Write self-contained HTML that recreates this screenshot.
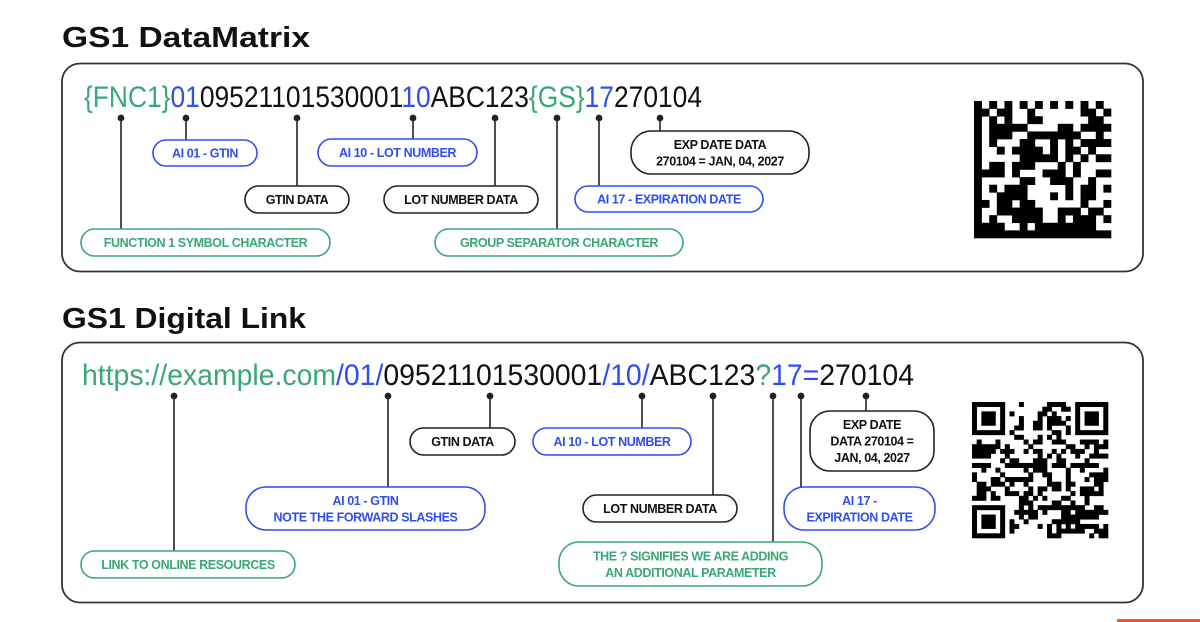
<!DOCTYPE html>
<html><head><meta charset="utf-8">
<style>
html,body{margin:0;padding:0;background:#fff;}
svg{display:block;}
.p{font-family:"Liberation Sans",sans-serif;font-weight:bold;font-size:12.5px;letter-spacing:-0.4px;}
</style></head><body>
<svg id="s" width="1200" height="622" viewBox="0 0 1200 622" xmlns="http://www.w3.org/2000/svg">
<rect x="0" y="0" width="1200" height="622" fill="#fff"/>
<rect x="1117" y="619" width="83" height="3" fill="#f05a28"/>
<text x="62" y="47" font-family="Liberation Sans,sans-serif" font-weight="bold" font-size="29" fill="#111" textLength="248" lengthAdjust="spacingAndGlyphs">GS1 DataMatrix</text>
<text x="62" y="328" font-family="Liberation Sans,sans-serif" font-weight="bold" font-size="29" fill="#111" textLength="244" lengthAdjust="spacingAndGlyphs">GS1 Digital Link</text>
<rect x="62" y="63.5" width="1081" height="208" rx="18" fill="none" stroke="#333" stroke-width="1.8"/>
<rect x="62" y="342.5" width="1081" height="260" rx="18" fill="none" stroke="#333" stroke-width="1.8"/>

<text x="84" y="107" font-family="Liberation Sans,sans-serif" font-size="30" fill="#111" textLength="618" lengthAdjust="spacingAndGlyphs"><tspan fill="#3aa876">{FNC1}</tspan><tspan fill="#2f4ef0">01</tspan>0952110153000<tspan>1</tspan><tspan fill="#2f4ef0">10</tspan>ABC123<tspan fill="#3aa876">{GS}</tspan><tspan fill="#2f4ef0">17</tspan>270104</text>

<text x="82" y="385" font-family="Liberation Sans,sans-serif" font-size="30" fill="#111" textLength="832" lengthAdjust="spacingAndGlyphs"><tspan fill="#3aa876">https://example.com</tspan><tspan fill="#2f4ef0">/01/</tspan>09521101530001<tspan fill="#2f4ef0">/10/</tspan>ABC123<tspan fill="#3aa876">?</tspan><tspan fill="#2f4ef0">17=</tspan>270104</text>

<g id="conn" stroke="#222" stroke-width="1.6" fill="#222"></g>
<g id="pills"></g>
<g id="dm"></g>
<g id="qr"></g>
</svg>
<script>
var NS="http://www.w3.org/2000/svg";
function el(t,a,p,txt){var e=document.createElementNS(NS,t);for(var k in a)e.setAttribute(k,a[k]);if(txt!=null)e.textContent=txt;document.getElementById(p).appendChild(e);return e;}
var C={g:"#3aa876",b:"#2f4ef0",k:"#222"};
// connectors [x, ytop, ybottom]
var cons=[[121,118,229],[186,118,140],[297,118,186],[413,118,139],[495,118,186],[557,118,229],[599,118,186],[660,118,131],
[174,396,551],[388,396,487],[490,396,428],[642,396,428],[713,396,495],[773,396,542],[801,396,487],[866,396,411]];
cons.forEach(function(c){el("line",{x1:c[0],y1:c[1],x2:c[0],y2:c[2]},"conn");el("circle",{cx:c[0],cy:c[1],r:2.6},"conn");});
// pills [x1,y1,x2,y2,color,lines]
var pills=[
[153,140,257,166,"b",["AI 01 - GTIN"]],
[318,139,477,166,"b",["AI 10 - LOT NUMBER"]],
[245,186,349,213,"k",["GTIN DATA"]],
[384,186,538,213,"k",["LOT NUMBER DATA"]],
[81,229,330,256,"g",["FUNCTION 1 SYMBOL CHARACTER"]],
[435,229,683,256,"g",["GROUP SEPARATOR CHARACTER"]],
[575,186,763,212,"b",["AI 17 - EXPIRATION DATE"]],
[631,131,809,174,"k",["EXP DATE DATA","270104 = JAN, 04, 2027"]],
[81,551,295,578,"g",["LINK TO ONLINE RESOURCES"]],
[246,487,485,530,"b",["AI 01 - GTIN","NOTE THE FORWARD SLASHES"]],
[410,428,515,455,"k",["GTIN DATA"]],
[533,428,691,455,"b",["AI 10 - LOT NUMBER"]],
[583,495,737,522,"k",["LOT NUMBER DATA"]],
[559,542,822,586,"g",["THE ? SIGNIFIES WE ARE ADDING","AN ADDITIONAL PARAMETER"]],
[784,487,935,530,"b",["AI 17 -","EXPIRATION DATE"]],
[810,411,934,471,"k",["EXP DATE","DATA  270104 =","JAN, 04, 2027"]]
];
pills.forEach(function(p){
 var w=p[2]-p[0],h=p[3]-p[1],col=C[p[4]];
 el("rect",{x:p[0],y:p[1],width:w,height:h,rx:Math.min(h/2,20),fill:"#fff",stroke:col,"stroke-width":1.6},"pills");
 var n=p[5].length,lh=16.5,cy=(p[1]+p[3])/2;
 p[5].forEach(function(t,i){
  el("text",{x:(p[0]+p[2])/2,y:cy+(i-(n-1)/2)*lh+4.5,"text-anchor":"middle",fill:p[4]=="k"?"#111":col,"class":"p"},"pills",t);
 });
});
var seed=7;function rnd(){seed=(seed*16807)%2147483647;return seed/2147483647;}
// DataMatrix
(function(){var N=18,x0=974,y0=101,s=137/N;
for(var r=0;r<N;r++)for(var c=0;c<N;c++){var on;
 if(c==0||r==N-1)on=1;else if(r==0)on=(c%2==0);else if(c==N-1)on=(r%2==1);else on=rnd()<0.52;
 if(on)el("rect",{x:x0+c*s,y:y0+r*s,width:s+0.3,height:s+0.3,fill:"#000"},"dm");}
})();
// QR
(function(){var N=29,x0=972,y0=402,s=136/N;
function fin(r,c){for(var i=0;i<7;i++)for(var j=0;j<7;j++){}}
function inF(r,c,fr,fc){return r>=fr&&r<fr+7&&c>=fc&&c<fc+7;}
function finOn(r,c){var m=Math.max(Math.abs(r-3),Math.abs(c-3));return m==3||m<=1;}
for(var r=0;r<N;r++)for(var c=0;c<N;c++){var on;
 if(inF(r,c,0,0))on=finOn(r,c);else if(inF(r,c,0,N-7))on=finOn(r,c-(N-7));else if(inF(r,c,N-7,0))on=finOn(r-(N-7),c);
 else if((r<8&&c<8)||(r<8&&c>=N-8)||(r>=N-8&&c<8))on=0;
 else on=rnd()<0.5;
 if(on)el("rect",{x:x0+c*s,y:y0+r*s,width:s+0.3,height:s+0.3,fill:"#000"},"qr");}
})();
</script>
</body></html>
